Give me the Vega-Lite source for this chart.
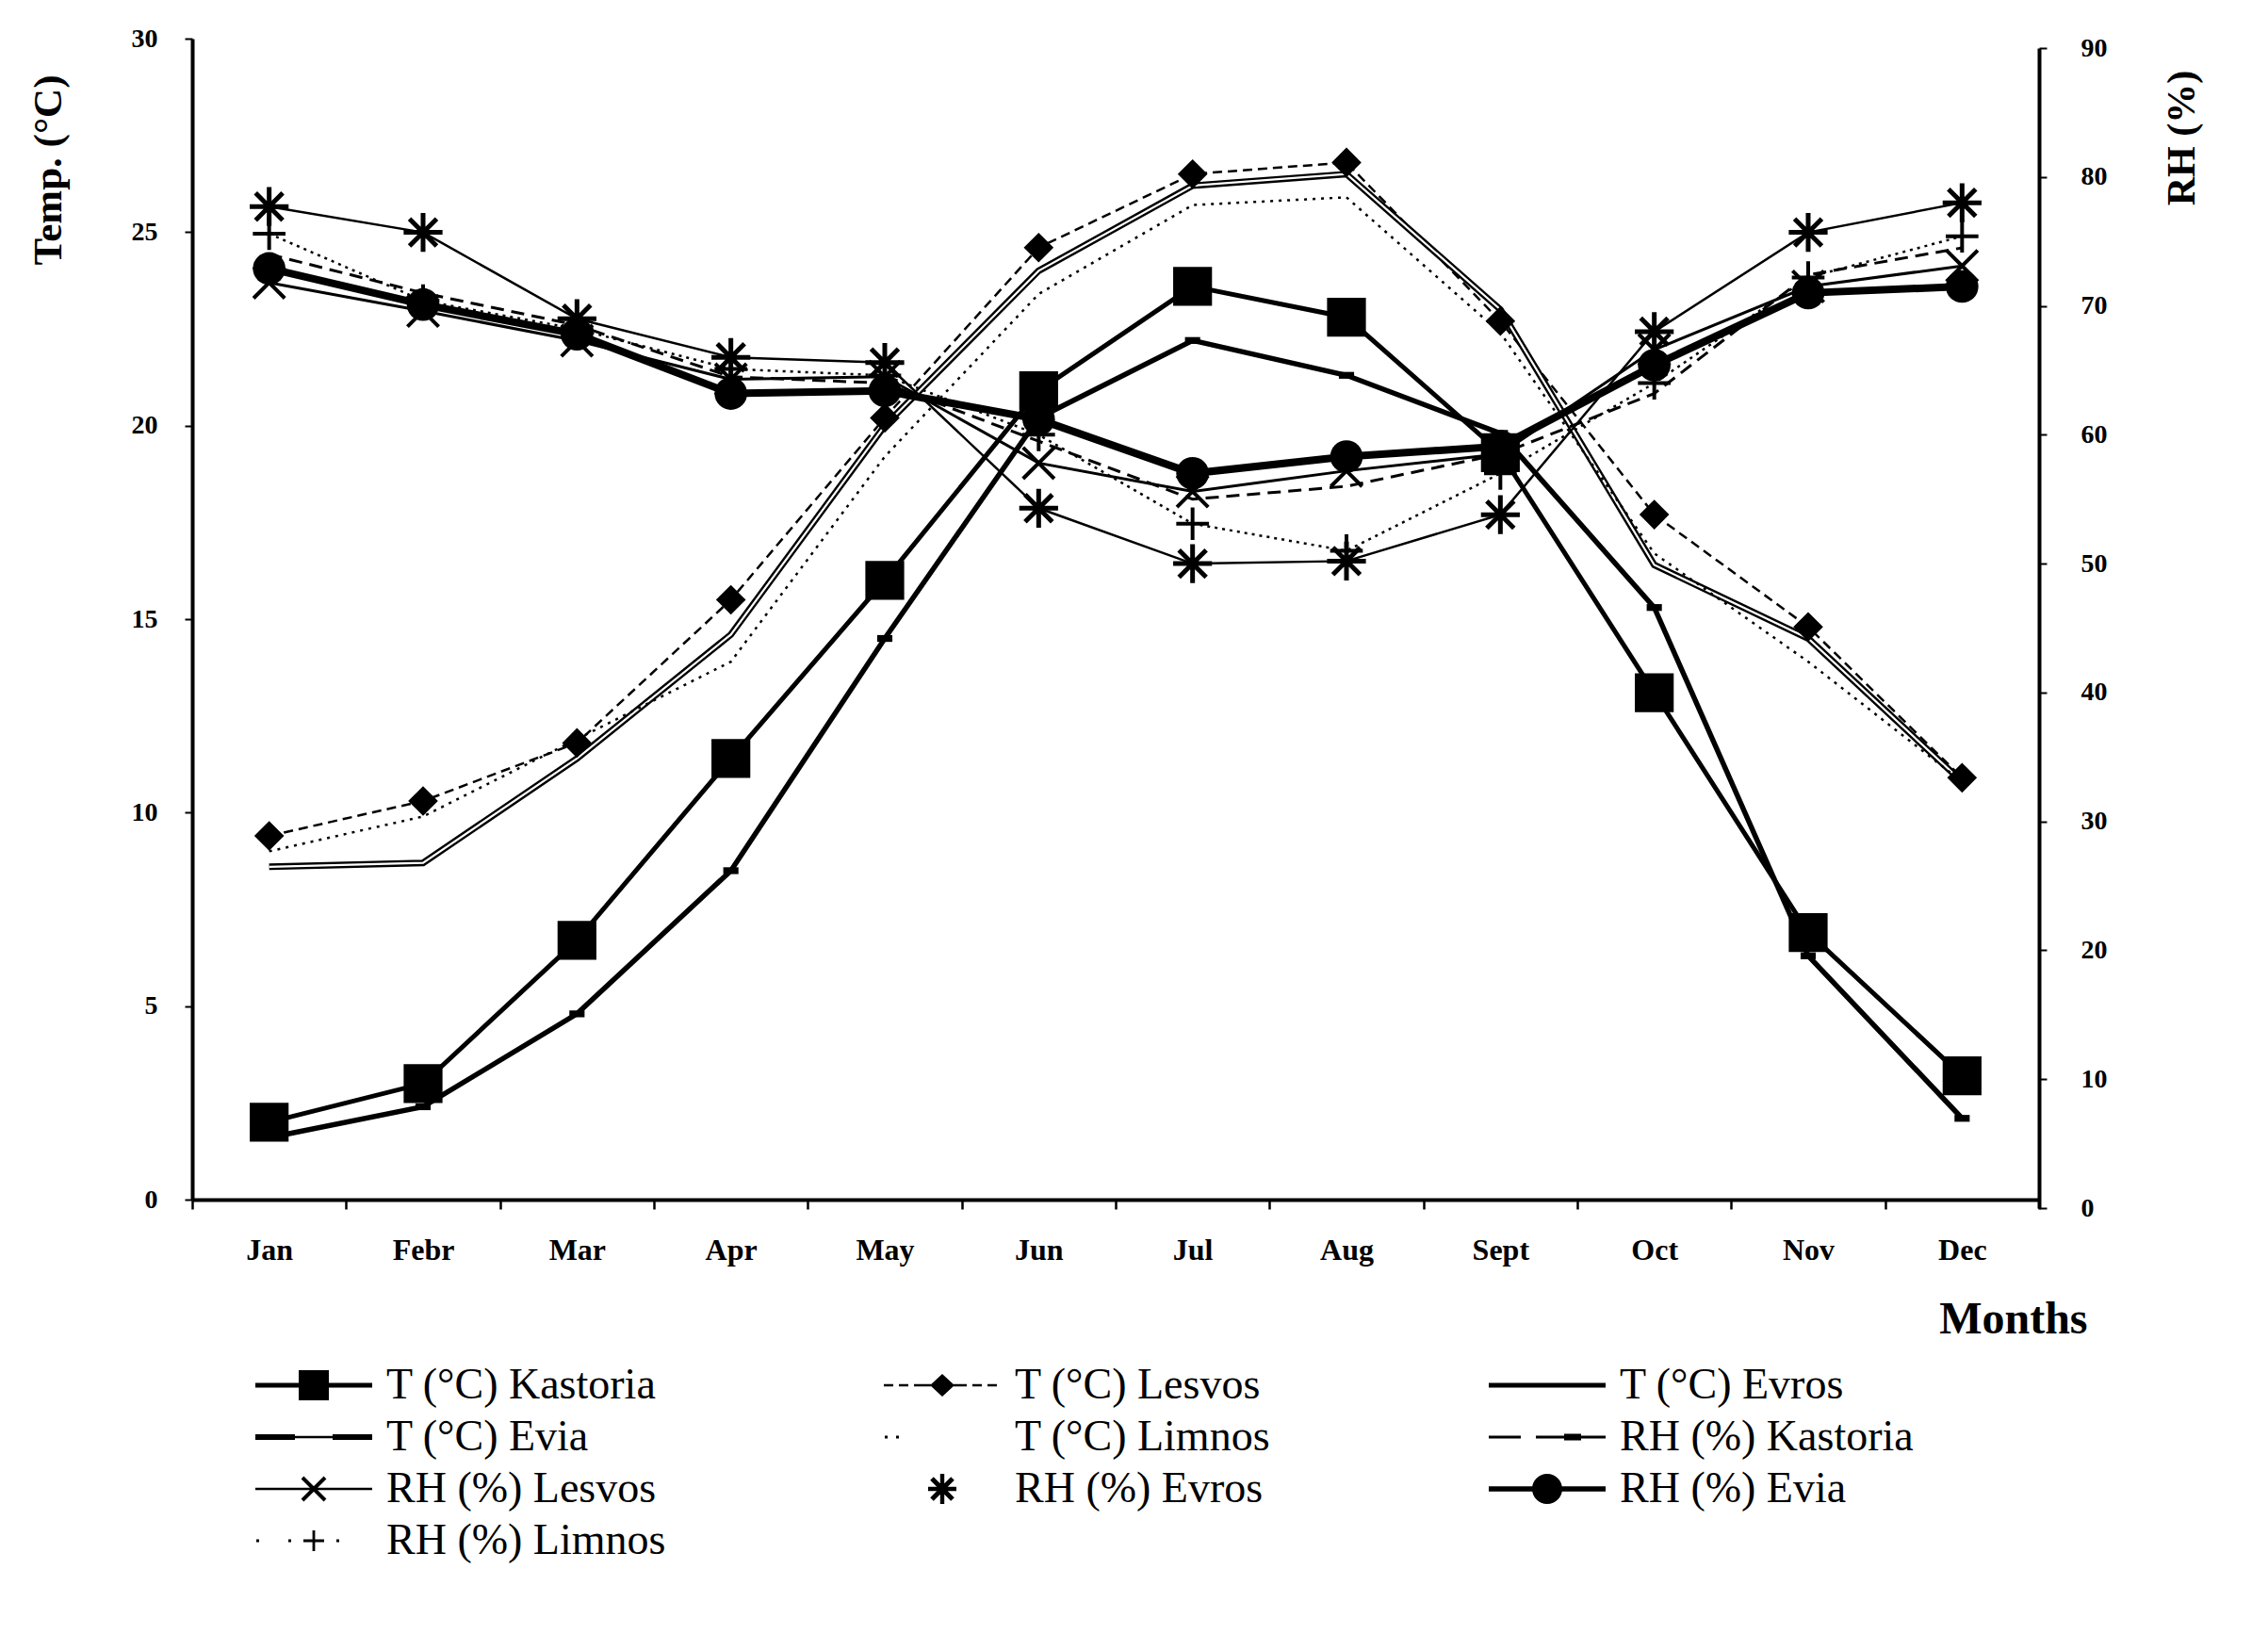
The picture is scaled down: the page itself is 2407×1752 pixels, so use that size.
{
  "$schema": "https://vega.github.io/schema/vega-lite/v6.json",
  "width": 1960,
  "height": 1232,
  "autosize": {"type": "none"},
  "padding": {"left": 204, "top": 41, "right": 243, "bottom": 479},
  "background": "white",
  "datasets": {
    "temp": [
      {"month": "Jan", "site": "Kastoria", "value": 2.0}, {"month": "Febr", "site": "Kastoria", "value": 3.0}, {"month": "Mar", "site": "Kastoria", "value": 6.7}, {"month": "Apr", "site": "Kastoria", "value": 11.4}, {"month": "May", "site": "Kastoria", "value": 16.0}, {"month": "Jun", "site": "Kastoria", "value": 20.9}, {"month": "Jul", "site": "Kastoria", "value": 23.6}, {"month": "Aug", "site": "Kastoria", "value": 22.8}, {"month": "Sept", "site": "Kastoria", "value": 19.3}, {"month": "Oct", "site": "Kastoria", "value": 13.1}, {"month": "Nov", "site": "Kastoria", "value": 6.9}, {"month": "Dec", "site": "Kastoria", "value": 3.2},
      {"month": "Jan", "site": "Lesvos", "value": 9.4}, {"month": "Febr", "site": "Lesvos", "value": 10.3}, {"month": "Mar", "site": "Lesvos", "value": 11.8}, {"month": "Apr", "site": "Lesvos", "value": 15.5}, {"month": "May", "site": "Lesvos", "value": 20.2}, {"month": "Jun", "site": "Lesvos", "value": 24.6}, {"month": "Jul", "site": "Lesvos", "value": 26.5}, {"month": "Aug", "site": "Lesvos", "value": 26.8}, {"month": "Sept", "site": "Lesvos", "value": 22.7}, {"month": "Oct", "site": "Lesvos", "value": 17.7}, {"month": "Nov", "site": "Lesvos", "value": 14.8}, {"month": "Dec", "site": "Lesvos", "value": 10.9},
      {"month": "Jan", "site": "Evros", "value": 1.6}, {"month": "Febr", "site": "Evros", "value": 2.4}, {"month": "Mar", "site": "Evros", "value": 4.8}, {"month": "Apr", "site": "Evros", "value": 8.5}, {"month": "May", "site": "Evros", "value": 14.5}, {"month": "Jun", "site": "Evros", "value": 20.2}, {"month": "Jul", "site": "Evros", "value": 22.2}, {"month": "Aug", "site": "Evros", "value": 21.3}, {"month": "Sept", "site": "Evros", "value": 19.8}, {"month": "Oct", "site": "Evros", "value": 15.3}, {"month": "Nov", "site": "Evros", "value": 6.3}, {"month": "Dec", "site": "Evros", "value": 2.1},
      {"month": "Jan", "site": "Evia", "value": 8.6}, {"month": "Febr", "site": "Evia", "value": 8.7}, {"month": "Mar", "site": "Evia", "value": 11.4}, {"month": "Apr", "site": "Evia", "value": 14.6}, {"month": "May", "site": "Evia", "value": 20.0}, {"month": "Jun", "site": "Evia", "value": 24.0}, {"month": "Jul", "site": "Evia", "value": 26.2}, {"month": "Aug", "site": "Evia", "value": 26.5}, {"month": "Sept", "site": "Evia", "value": 23.0}, {"month": "Oct", "site": "Evia", "value": 16.4}, {"month": "Nov", "site": "Evia", "value": 14.5}, {"month": "Dec", "site": "Evia", "value": 10.8},
      {"month": "Jan", "site": "Limnos", "value": 9.0}, {"month": "Febr", "site": "Limnos", "value": 9.9}, {"month": "Mar", "site": "Limnos", "value": 11.9}, {"month": "Apr", "site": "Limnos", "value": 13.9}, {"month": "May", "site": "Limnos", "value": 19.2}, {"month": "Jun", "site": "Limnos", "value": 23.4}, {"month": "Jul", "site": "Limnos", "value": 25.7}, {"month": "Aug", "site": "Limnos", "value": 25.9}, {"month": "Sept", "site": "Limnos", "value": 22.4}, {"month": "Oct", "site": "Limnos", "value": 16.7}, {"month": "Nov", "site": "Limnos", "value": 13.9}, {"month": "Dec", "site": "Limnos", "value": 10.8}
    ],
    "rh": [
      {"month": "Jan", "site": "Kastoria", "value": 74.0}, {"month": "Febr", "site": "Kastoria", "value": 71.0}, {"month": "Mar", "site": "Kastoria", "value": 68.5}, {"month": "Apr", "site": "Kastoria", "value": 64.5}, {"month": "May", "site": "Kastoria", "value": 64.0}, {"month": "Jun", "site": "Kastoria", "value": 59.5}, {"month": "Jul", "site": "Kastoria", "value": 55.0}, {"month": "Aug", "site": "Kastoria", "value": 56.0}, {"month": "Sept", "site": "Kastoria", "value": 58.5}, {"month": "Oct", "site": "Kastoria", "value": 63.2}, {"month": "Nov", "site": "Kastoria", "value": 72.4}, {"month": "Dec", "site": "Kastoria", "value": 74.5},
      {"month": "Jan", "site": "Lesvos", "value": 71.8}, {"month": "Febr", "site": "Lesvos", "value": 69.6}, {"month": "Mar", "site": "Lesvos", "value": 67.3}, {"month": "Apr", "site": "Lesvos", "value": 64.3}, {"month": "May", "site": "Lesvos", "value": 64.5}, {"month": "Jun", "site": "Lesvos", "value": 57.8}, {"month": "Jul", "site": "Lesvos", "value": 55.6}, {"month": "Aug", "site": "Lesvos", "value": 57.2}, {"month": "Sept", "site": "Lesvos", "value": 58.5}, {"month": "Oct", "site": "Lesvos", "value": 66.6}, {"month": "Nov", "site": "Lesvos", "value": 71.5}, {"month": "Dec", "site": "Lesvos", "value": 73.1},
      {"month": "Jan", "site": "Evros", "value": 77.7}, {"month": "Febr", "site": "Evros", "value": 75.7}, {"month": "Mar", "site": "Evros", "value": 69.0}, {"month": "Apr", "site": "Evros", "value": 66.0}, {"month": "May", "site": "Evros", "value": 65.6}, {"month": "Jun", "site": "Evros", "value": 54.3}, {"month": "Jul", "site": "Evros", "value": 50.0}, {"month": "Aug", "site": "Evros", "value": 50.2}, {"month": "Sept", "site": "Evros", "value": 53.8}, {"month": "Oct", "site": "Evros", "value": 68.0}, {"month": "Nov", "site": "Evros", "value": 75.7}, {"month": "Dec", "site": "Evros", "value": 78.0},
      {"month": "Jan", "site": "Evia", "value": 72.9}, {"month": "Febr", "site": "Evia", "value": 70.1}, {"month": "Mar", "site": "Evia", "value": 67.8}, {"month": "Apr", "site": "Evia", "value": 63.2}, {"month": "May", "site": "Evia", "value": 63.4}, {"month": "Jun", "site": "Evia", "value": 61.2}, {"month": "Jul", "site": "Evia", "value": 57.0}, {"month": "Aug", "site": "Evia", "value": 58.3}, {"month": "Sept", "site": "Evia", "value": 59.1}, {"month": "Oct", "site": "Evia", "value": 65.4}, {"month": "Nov", "site": "Evia", "value": 71.0}, {"month": "Dec", "site": "Evia", "value": 71.5},
      {"month": "Jan", "site": "Limnos", "value": 75.6}, {"month": "Febr", "site": "Limnos", "value": 70.4}, {"month": "Mar", "site": "Limnos", "value": 68.2}, {"month": "Apr", "site": "Limnos", "value": 65.1}, {"month": "May", "site": "Limnos", "value": 64.6}, {"month": "Jun", "site": "Limnos", "value": 60.0}, {"month": "Jul", "site": "Limnos", "value": 53.1}, {"month": "Aug", "site": "Limnos", "value": 51.0}, {"month": "Sept", "site": "Limnos", "value": 57.0}, {"month": "Oct", "site": "Limnos", "value": 64.0}, {"month": "Nov", "site": "Limnos", "value": 72.2}, {"month": "Dec", "site": "Limnos", "value": 75.4}
    ]
  },
  "encoding": {
    "x": {
      "field": "month",
      "type": "ordinal",
      "sort": ["Jan", "Febr", "Mar", "Apr", "May", "Jun", "Jul", "Aug", "Sept", "Oct", "Nov", "Dec"],
      "bandPosition": 0.5,
      "scale": {"type": "band", "paddingInner": 0, "paddingOuter": 0},
      "axis": {
        "orient": "bottom",
        "title": "Months",
        "titleFontSize": 48,
        "titleAlign": "right",
        "titleBaseline": "alphabetic",
        "titleX": 2011,
        "titleY": 141,
        "labelFontSize": 32,
        "labelPadding": 28,
        "labelAngle": 0,
        "tickBand": "extent",
        "tickSize": 10,
        "tickWidth": 2.5,
        "domainWidth": 4
      }
    }
  },
  "layer": [
    {
      "data": {"name": "temp"},
      "encoding": {
        "y": {
          "field": "value",
          "type": "quantitative",
          "scale": {"domain": [0, 30], "nice": false},
          "axis": {
            "orient": "left",
            "values": [0, 5, 10, 15, 20, 25, 30],
            "title": "Temp. (°C)",
            "titleFontSize": 43,
            "titleAngle": 270,
            "titleX": -153,
            "titleY": 139,
            "titleAlign": "center",
            "titleBaseline": "middle",
            "labelFontSize": 28,
            "labelPadding": 29,
            "tickSize": 8,
            "tickWidth": 2,
            "domainWidth": 4
          }
        }
      },
      "layer": [
        {"transform": [{"filter": {"field": "site", "equal": "Kastoria"}}], "mark": {"type": "line", "color": "black", "strokeWidth": 5}},
        {"transform": [{"filter": {"field": "site", "equal": "Lesvos"}}], "mark": {"type": "line", "color": "black", "strokeWidth": 2.5, "strokeDash": [10, 6]}},
        {"transform": [{"filter": {"field": "site", "equal": "Evros"}}], "mark": {"type": "line", "color": "black", "strokeWidth": 5.5}},
        {"transform": [{"filter": {"field": "site", "equal": "Evia"}}], "mark": {"type": "line", "color": "black", "strokeWidth": 7}},
        {"transform": [{"filter": {"field": "site", "equal": "Evia"}}], "mark": {"type": "line", "color": "white", "strokeWidth": 2.2}},
        {"transform": [{"filter": {"field": "site", "equal": "Limnos"}}], "mark": {"type": "line", "color": "black", "strokeWidth": 2.5, "strokeDash": [3, 6]}},
        {"transform": [{"filter": {"field": "site", "equal": "Kastoria"}}], "mark": {"type": "point", "shape": "square", "filled": true, "color": "black", "size": 1700, "opacity": 1}},
        {"transform": [{"filter": {"field": "site", "equal": "Lesvos"}}], "mark": {"type": "point", "shape": "diamond", "filled": true, "color": "black", "size": 1000, "opacity": 1}},
        {"transform": [{"filter": {"field": "site", "equal": "Evros"}}], "mark": {"type": "point", "shape": "M-1,-0.45L1,-0.45L1,0.45L-1,0.45Z", "filled": true, "color": "black", "size": 260, "opacity": 1}}
      ]
    },
    {
      "data": {"name": "rh"},
      "encoding": {
        "y": {
          "field": "value",
          "type": "quantitative",
          "scale": {"domain": [0, 90], "nice": false, "range": [1241, 10]},
          "axis": {
            "orient": "right",
            "values": [0, 10, 20, 30, 40, 50, 60, 70, 80, 90],
            "title": "RH (%)",
            "titleFontSize": 42,
            "titleAngle": 270,
            "titleX": 151,
            "titleY": 105,
            "titleAlign": "center",
            "titleBaseline": "middle",
            "labelFontSize": 28,
            "labelPadding": 36,
            "tickSize": 8,
            "tickWidth": 2,
            "domainWidth": 4
          }
        }
      },
      "layer": [
        {"transform": [{"filter": {"field": "site", "equal": "Kastoria"}}], "mark": {"type": "line", "color": "black", "strokeWidth": 3, "strokeDash": [14, 8]}},
        {"transform": [{"filter": {"field": "site", "equal": "Lesvos"}}], "mark": {"type": "line", "color": "black", "strokeWidth": 3}},
        {"transform": [{"filter": {"field": "site", "equal": "Evros"}}], "mark": {"type": "line", "color": "black", "strokeWidth": 2.5}},
        {"transform": [{"filter": {"field": "site", "equal": "Evia"}}], "mark": {"type": "line", "color": "black", "strokeWidth": 8}},
        {"transform": [{"filter": {"field": "site", "equal": "Limnos"}}], "mark": {"type": "line", "color": "black", "strokeWidth": 2.5, "strokeDash": [3, 5]}},
        {"transform": [{"filter": {"field": "site", "equal": "Lesvos"}}], "mark": {"type": "point", "shape": "M-1,-1L1,1M-1,1L1,-1", "filled": false, "color": "black", "strokeWidth": 4, "size": 1100, "opacity": 1}},
        {"transform": [{"filter": {"field": "site", "equal": "Evros"}}], "mark": {"type": "point", "shape": "M-1,0L1,0M0,-1L0,1M-0.7,-0.7L0.7,0.7M-0.7,0.7L0.7,-0.7", "filled": false, "color": "black", "strokeWidth": 5, "size": 1700, "opacity": 1}},
        {"transform": [{"filter": {"field": "site", "equal": "Evia"}}], "mark": {"type": "point", "shape": "circle", "filled": true, "color": "black", "size": 1200, "opacity": 1}},
        {"transform": [{"filter": {"field": "site", "equal": "Limnos"}}], "mark": {"type": "point", "shape": "M-1,0L1,0M0,-1L0,1", "filled": false, "color": "black", "strokeWidth": 4, "size": 1200, "opacity": 1}}
      ]
    },
    {
      "data": {"name": "rh"},
      "transform": [{"filter": "datum.value < 0"}],
      "mark": {"type": "point", "filled": true, "color": "black", "opacity": 1},
      "encoding": {
        "shape": {
          "field": "entry",
          "type": "nominal",
          "scale": {
            "domain": ["T (°C) Kastoria", "T (°C) Lesvos", "T (°C) Evros", "T (°C) Evia", "T (°C) Limnos", "RH (%) Kastoria", "RH (%) Lesvos", "RH (%) Evros", "RH (%) Evia", "RH (%) Limnos"],
            "range": [
              "M-3.1,-0.12L3.1,-0.12L3.1,0.12L-3.1,0.12Z M-0.8,-0.8L0.8,-0.8L0.8,0.8L-0.8,0.8Z",
              "M-3.1,-0.065L-2.6,-0.065L-2.6,0.065L-3.1,0.065Z M-2.3,-0.065L-1.8,-0.065L-1.8,0.065L-2.3,0.065Z M-1.5,-0.065L-0.6,-0.065L-0.6,0.065L-1.5,0.065Z M0.6,-0.065L1.3,-0.065L1.3,0.065L0.6,0.065Z M1.6,-0.065L2.1,-0.065L2.1,0.065L1.6,0.065Z M2.4,-0.065L2.9,-0.065L2.9,0.065L2.4,0.065Z M0,-0.6L0.65,0L0,0.6L-0.65,0Z",
              "M-3.1,-0.13L3.1,-0.13L3.1,0.13L-3.1,0.13Z",
              "M-3.1,-0.15L-1,-0.15L-1,0.15L-3.1,0.15Z M1,-0.15L3.1,-0.15L3.1,0.15L1,0.15Z M-1,-0.06L1,-0.06L1,0.06L-1,0.06Z",
              "M-3.05,-0.07L-2.9,-0.07L-2.9,0.07L-3.05,0.07Z M-2.45,-0.07L-2.3,-0.07L-2.3,0.07L-2.45,0.07Z",
              "M-3.1,-0.08L-1.4,-0.08L-1.4,0.08L-3.1,0.08Z M-0.6,-0.08L3.1,-0.08L3.1,0.08L-0.6,0.08Z M0.9,-0.18L1.8,-0.18L1.8,0.18L0.9,0.18Z",
              "M-3.1,-0.065L3.1,-0.065L3.1,0.065L-3.1,0.065Z M-0.53,-0.67L0.67,0.53L0.53,0.67L-0.67,-0.53Z M-0.67,0.53L0.53,-0.67L0.67,-0.53L-0.53,0.67Z",
              "M-0.75,-0.11L0.75,-0.11L0.75,0.11L-0.75,0.11Z M-0.11,-0.8L0.11,-0.8L0.11,0.8L-0.11,0.8Z M-0.46,-0.64L0.64,0.46L0.46,0.64L-0.64,-0.46Z M-0.64,0.46L0.46,-0.64L0.64,-0.46L-0.46,0.64Z",
              "M-3.1,-0.14L3.1,-0.14L3.1,0.14L-3.1,0.14Z M0.8,0A0.8,0.8 0 1,1 -0.8,0A0.8,0.8 0 1,1 0.8,0Z",
              "M-3.05,-0.07L-2.9,-0.07L-2.9,0.07L-3.05,0.07Z M-1.35,-0.07L-1.2,-0.07L-1.2,0.07L-1.35,0.07Z M-0.55,-0.07L0.55,-0.07L0.55,0.07L-0.55,0.07Z M-0.07,-0.55L0.07,-0.55L0.07,0.55L-0.07,0.55Z M1.2,-0.07L1.35,-0.07L1.35,0.07L1.2,0.07Z"
            ]
          },
          "legend": {
            "orient": "none",
            "direction": "horizontal",
            "legendX": 106,
            "legendY": 1406,
            "columns": 3,
            "title": null,
            "padding": 0,
            "symbolSize": 1600,
            "symbolStrokeWidth": 0,
            "symbolFillColor": "black",
            "symbolOpacity": 1,
            "labelFont": "Liberation Serif",
            "labelFontSize": 46,
            "labelColor": "black",
            "labelOffset": 54,
            "labelLimit": 0,
            "columnPadding": 231,
            "rowPadding": 9
          }
        }
      }
    }
  ],
  "resolve": {"scale": {"y": "independent"}},
  "config": {
    "view": {"stroke": null},
    "axis": {
      "labelFont": "Liberation Serif",
      "titleFont": "Liberation Serif",
      "labelFontWeight": "bold",
      "titleFontWeight": "bold",
      "labelColor": "black",
      "titleColor": "black",
      "domainColor": "black",
      "tickColor": "black",
      "grid": false
    }
  }
}
